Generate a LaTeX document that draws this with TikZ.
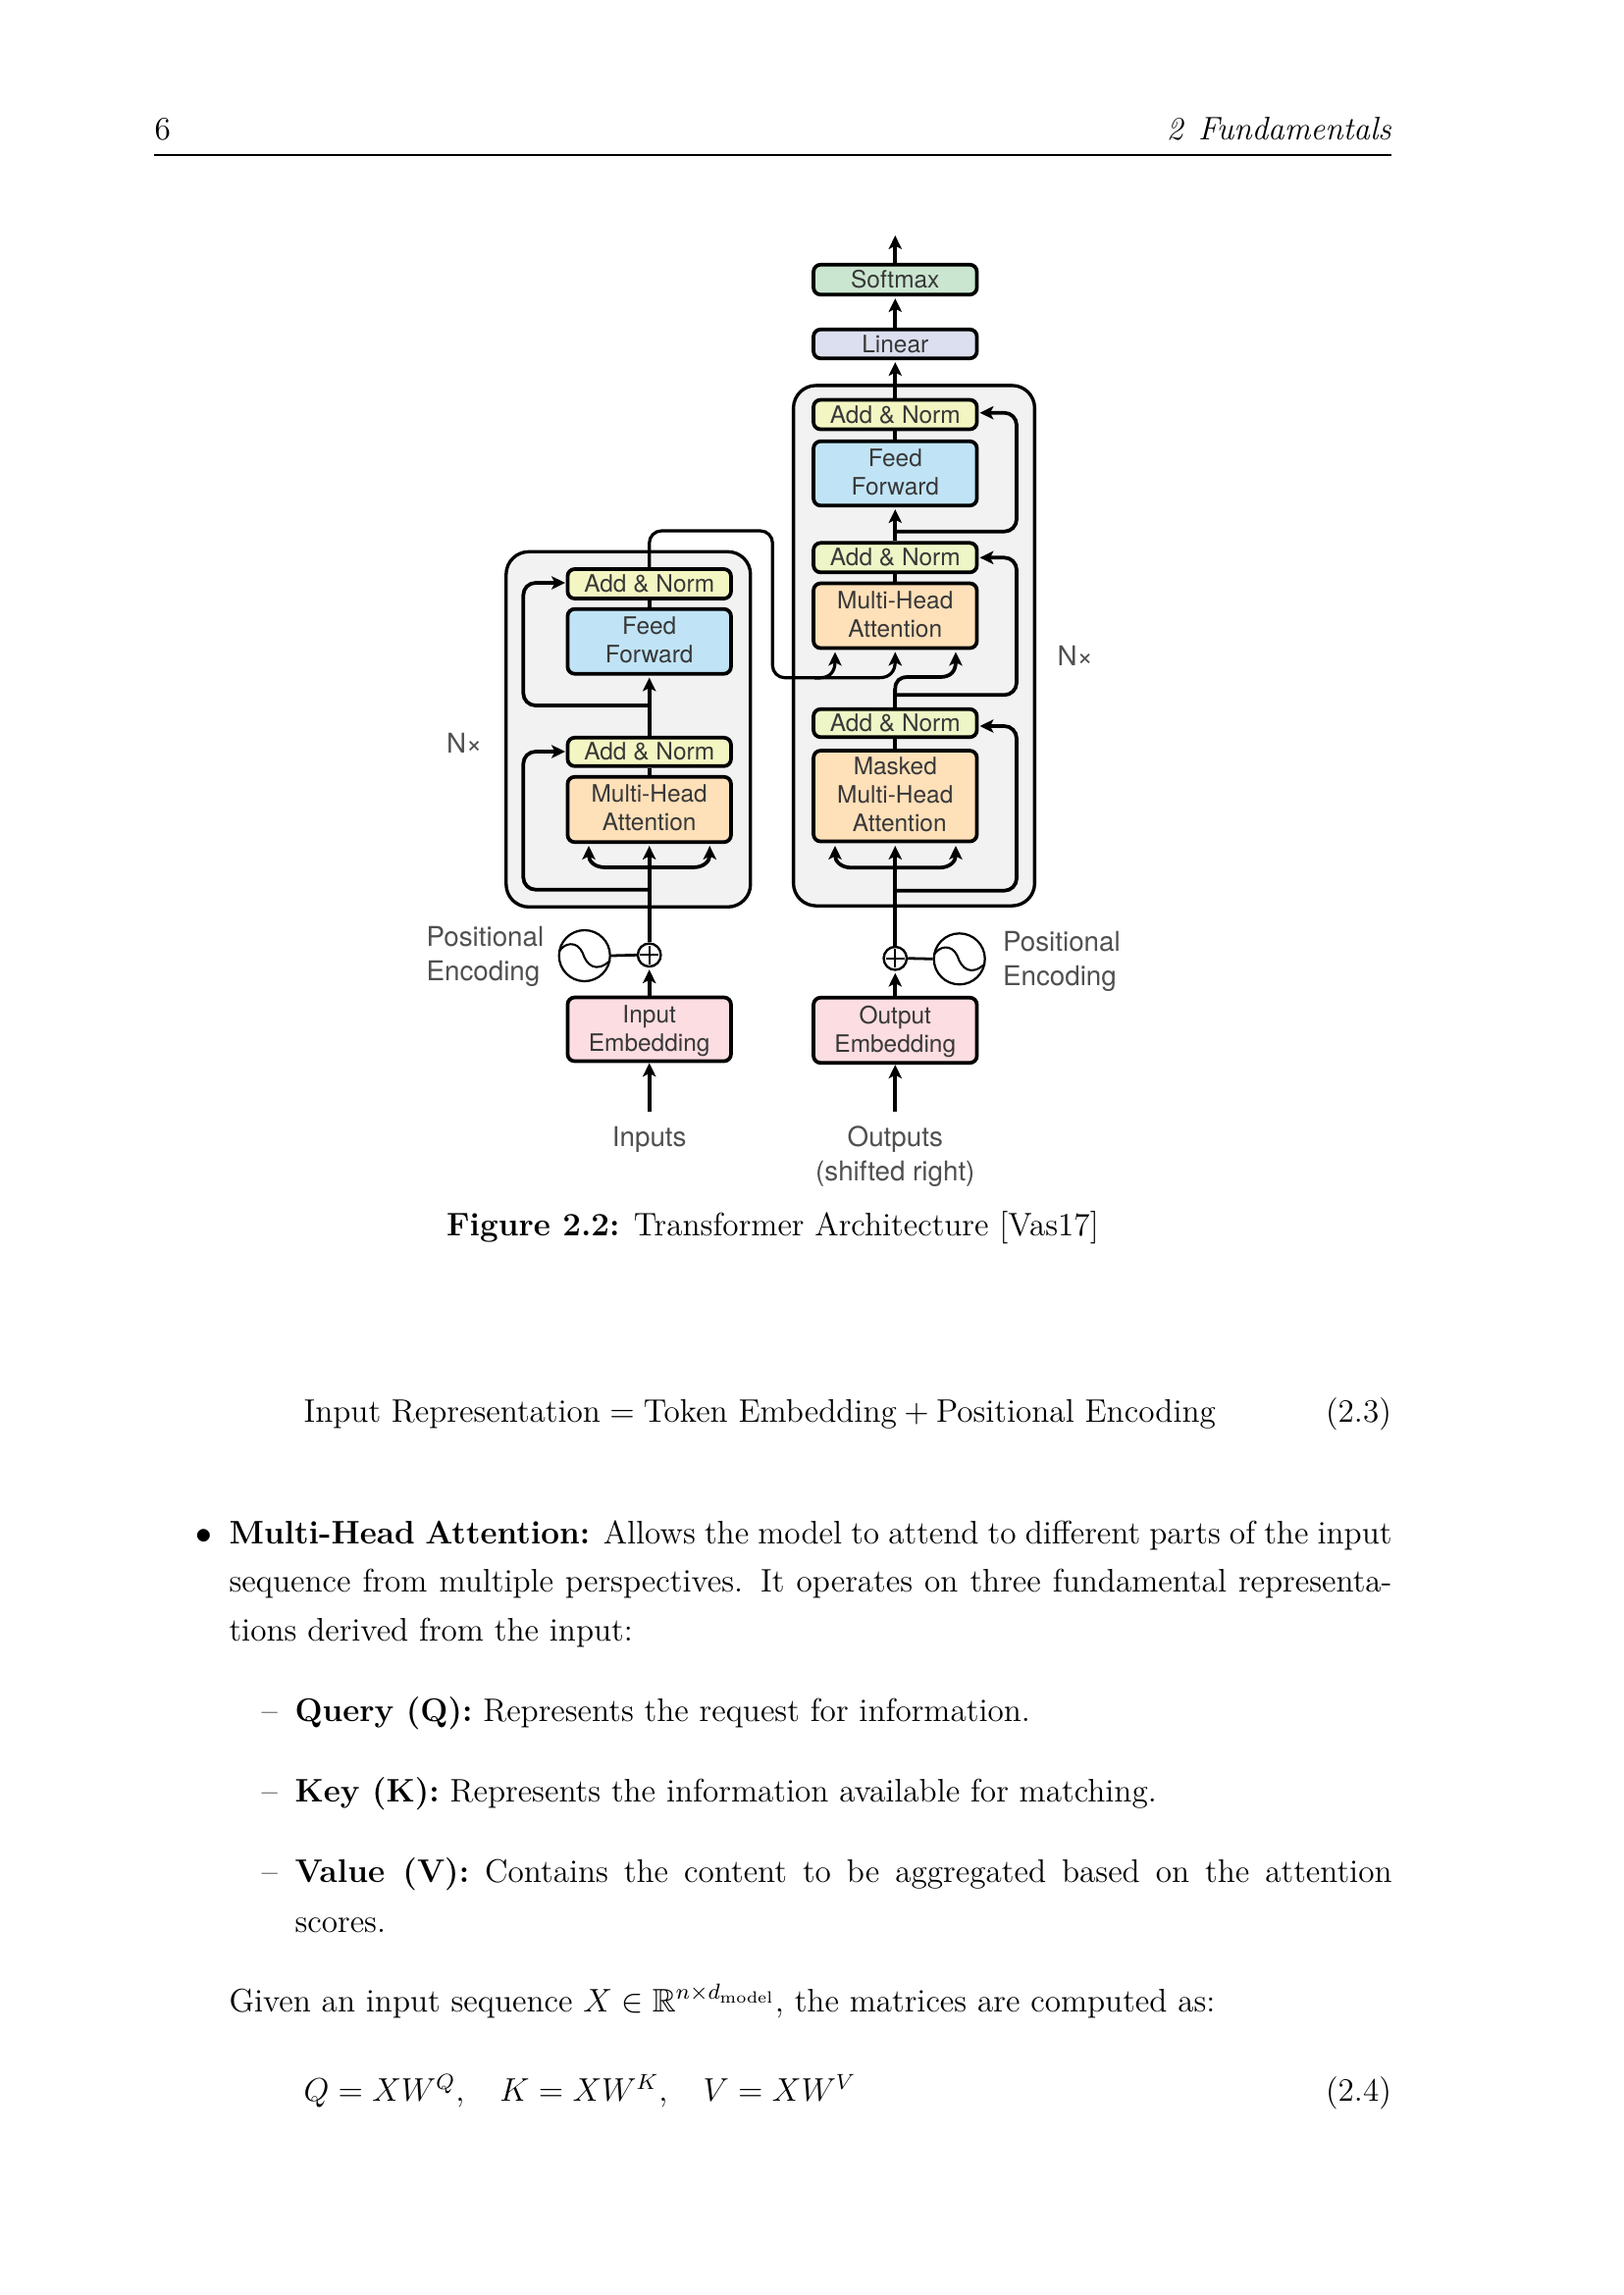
\documentclass[12pt,tikz,border=0pt]{standalone}
\usepackage{amsmath,amssymb}
\usepackage{fontspec}
\usetikzlibrary{arrows.meta,calc}
\newfontfamily\hvfont{TeX Gyre Heros}
\newcommand\dnrule{\rule[-1.1pt]{0pt}{0pt}}
\newcommand\uprule{\rule{0pt}{7.4pt}}
\definecolor{cSoft}{HTML}{CBE6D0}
\definecolor{cLin}{HTML}{DCDFEF}
\definecolor{cAdd}{HTML}{F3F6C2}
\definecolor{cAddB}{HTML}{EEF5C6}
\definecolor{cFF}{HTML}{C0E4F6}
\definecolor{cMHA}{HTML}{FEE0B9}
\definecolor{cEmb}{HTML}{FCDDE1}
\definecolor{cBlock}{HTML}{F2F2F2}
\definecolor{cTxt}{HTML}{383838}
\definecolor{cLab}{HTML}{505050}
\tikzset{
  x=0.36pt,y=-0.36pt,
  >={Stealth[length=5pt,width=4.8pt,inset=1.2pt]},
  stackbox/.style={draw=black,line width=1.35pt,rounded corners=2.6pt,inner sep=0pt,align=center,
    minimum width=166.5*0.36pt,text=cTxt,font=\hvfont\fontsize{8.8}{10.5}\selectfont},
  block/.style={draw=black,line width=1.2pt,rounded corners=8.3pt,fill=cBlock,inner sep=0pt},
  conn/.style={draw=black,line width=1.35pt,rounded corners=4.5pt},
  connA/.style={conn,->,shorten >=0.7pt},
  xconn/.style={draw=black,line width=1.15pt,rounded corners=4.5pt},
  lab/.style={inner sep=0pt,text=cLab,align=left,font=\hvfont\fontsize{10}{12.6}\selectfont},
  sumnode/.style={circle,draw=black,line width=0.85pt,fill=white,inner sep=0pt,minimum size=23.5*0.36pt},
  wavenode/.style={circle,draw=black,line width=0.8pt,fill=white,inner sep=0pt,minimum size=52*0.36pt},
  ptxt/.style={inner sep=0pt,anchor=base west,font=\fontsize{11.96}{14.5}\selectfont},
  ptxtr/.style={inner sep=0pt,anchor=base east,font=\fontsize{11.96}{14.5}\selectfont}
}
\begin{document}
\begin{tikzpicture}
\useasboundingbox (0,0) rectangle (1654,2339);
\fill[white] (0,0) rectangle (1654,2339);

% header
\node[ptxt] (pnum) at (157,142.7) {6};
\node[ptxtr] (phead) at (1418.5,142.7) {\textit{2\hspace{5.6pt}Fundamentals}};
\coordinate (ruleL) at (157,157.7);
\coordinate (ruleR) at (1418,157.7);
\draw[line width=0.72pt] (ruleL) -- (ruleR);

% blocks
\node[block,minimum width=245.8*0.36pt,minimum height=530.3*0.36pt] (decblock) at (931.5,658) {};
\node[block,minimum width=249*0.36pt,minimum height=362*0.36pt] (encblock) at (640.3,743.3) {};

% decoder stack
\node[stackbox,fill=cSoft,minimum height=30.5*0.36pt] (softmax) at (912.3,285) {Softmax};
\node[stackbox,fill=cLin,minimum height=29.5*0.36pt] (linear) at (912.3,350.5) {Linear};
\node[stackbox,fill=cAdd,minimum height=30*0.36pt] (anD) at (912.3,422.5) {Add \& Norm};
\node[stackbox,fill=cFF,minimum height=65.5*0.36pt] (ffD) at (912.3,482.5) {Feed\\Forward\dnrule};
\node[stackbox,fill=cAddB,minimum height=30*0.36pt] (anC) at (912.3,568.3) {Add \& Norm};
\node[stackbox,fill=cMHA,minimum height=66*0.36pt] (mhaD) at (912.3,627.5) {Multi-Head\\Attention\dnrule};
\node[stackbox,fill=cAddB,minimum height=28.5*0.36pt] (anB) at (912.3,737) {Add \& Norm};
\node[stackbox,fill=cMHA,minimum height=92.5*0.36pt] (mask) at (912.3,811.3) {Masked\\Multi-Head\\\hspace*{3.2pt}Attention\dnrule};
\node[stackbox,fill=cEmb,minimum height=66.5*0.36pt] (outemb) at (912.3,1050) {\uprule Output\\Embedding};

% encoder stack
\node[stackbox,fill=cAdd,minimum height=30*0.36pt] (anF) at (661.7,595) {Add \& Norm};
\node[stackbox,fill=cFF,minimum height=66*0.36pt] (ffE) at (661.7,653.7) {Feed\\Forward\dnrule};
\node[stackbox,fill=cAdd,minimum height=29*0.36pt] (anE) at (661.7,766.3) {Add \& Norm};
\node[stackbox,fill=cMHA,minimum height=66.5*0.36pt] (mhaE) at (661.7,825) {Multi-Head\\Attention\dnrule};
\node[stackbox,fill=cEmb,minimum height=65*0.36pt] (inemb) at (661.7,1049) {\uprule Input\\Embedding};

% sums and waves
\node[sumnode] (sumL) at (661.7,973.3) {};
\node[sumnode] (sumR) at (912.3,976.7) {};
\node[wavenode] (waveL) at (595.7,974) {};
\node[wavenode] (waveR) at (977.7,977.3) {};
\foreach \n in {sumL,sumR}{
  \draw[line width=0.65pt] ($(\n.center)+(-9.5,0)$) -- ($(\n.center)+(9.5,0)$);
  \draw[line width=0.65pt] ($(\n.center)+(0,-9.5)$) -- ($(\n.center)+(0,9.5)$);
}
\foreach \n in {waveL,waveR}{
  \draw[line width=0.75pt,shift={(\n.center)}] (-26,-4) .. controls (-21,-13) and (-8,-16) .. (-2,-3)
     .. controls (2,10) and (12,18) .. (26,5);
}
\draw[line width=1pt] (waveL.east) -- (sumL.west);
\draw[line width=1pt] (sumR.east) -- (waveR.west);

% free ends
\coordinate (outTop) at (912.3,238);
\coordinate (inTail) at (661.7,1133.3);
\coordinate (outTail) at (912.3,1133.3);
\coordinate (anDin) at (998.5,420.7);
\coordinate (anCin) at (998.5,568.3);
\coordinate (anBin) at (998.5,740);
\coordinate (anFin) at (576,594);
\coordinate (anEin) at (576,766);
\coordinate (tipA) at (851,664.5);
\coordinate (tipB) at (912.3,664.5);
\coordinate (tipC) at (974,664.5);
\coordinate (tipD) at (851,862);
\coordinate (tipE) at (912.3,862);
\coordinate (tipF) at (974,862);
\coordinate (tipG) at (600,862);
\coordinate (tipH) at (661.7,862);
\coordinate (tipI) at (723.3,862);

% decoder connectors
\draw[connA] (softmax.north) -- (outTop);
\draw[connA] (linear.north) -- (softmax.south);
\draw[connA] (anD.north) -- (linear.south);
\draw[conn] (ffD.north) -- (anD.south);
\draw[connA] (anC.north) -- (ffD.south);
\draw[conn] (mhaD.north) -- (anC.south);
\draw[conn] (mask.north) -- (anB.south);
\draw[connA,shorten >=0pt] (912.3,541.7) -- (1036,541.7) -- (1036,420.7) -- (anDin);
\draw[connA,shorten >=0pt] (912.3,708.3) -- (1036,708.3) -- (1036,568.3) -- (anCin);
\draw[connA,shorten >=0pt] (912.3,907.7) -- (1036,907.7) -- (1036,740) -- (anBin);
\draw[conn,rounded corners=0pt] (anB.north) -- (912.3,702);
\draw[conn,rounded corners=0pt,->] (912.3,708) -- (912.3,702) .. controls (912.3,694) and (917,690) .. (925,690) -- (958,690) .. controls (969,690) and (974,684) .. (tipC);
\draw[connA,shorten >=0pt,rounded corners=0pt] (sumR.north) -- (tipE);
\draw[connA,shorten >=0pt,rounded corners=0pt] (912.3,884.3) -- (868,884.3) .. controls (857,884.3) and (851,878) .. (tipD);
\draw[connA,shorten >=0pt,rounded corners=0pt] (912.3,884.3) -- (957,884.3) .. controls (968,884.3) and (974,878) .. (tipF);
\draw[connA] (outemb.north) -- (sumR.south);
\draw[connA,shorten >=0pt] (outTail) -- (outemb.south);

% encoder connectors
\draw[conn] (ffE.north) -- (anF.south);
\draw[connA] (anE.north) -- (ffE.south);
\draw[conn] (mhaE.north) -- (anE.south);
\draw[connA,shorten >=0pt] (661.7,719) -- (533.3,719) -- (533.3,594) -- (anFin);
\draw[connA,shorten >=0pt] (661.7,906.7) -- (533.3,906.7) -- (533.3,766) -- (anEin);
\draw[connA,shorten >=0pt,rounded corners=0pt] (sumL.north) -- (tipH);
\draw[connA,shorten >=0pt,rounded corners=0pt] (661.7,884) -- (617,884) .. controls (606,884) and (600,878) .. (tipG);
\draw[connA,shorten >=0pt,rounded corners=0pt] (661.7,884) -- (706,884) .. controls (717,884) and (723.3,878) .. (tipI);
\draw[connA] (inemb.north) -- (sumL.south);
\draw[connA,shorten >=0pt] (inTail) -- (inemb.south);

% encoder to decoder
\draw[xconn] (anF.north) -- (661.7,541) -- (787.3,541) -- (787.3,690.7) -- (836,690.7);
\draw[xconn,->,rounded corners=0pt] (830,690.7) -- (836,690.7) .. controls (846,690.7) and (851,684) .. (tipA);
\draw[xconn,->,rounded corners=0pt] (830,690.7) -- (896,690.7) .. controls (907,690.7) and (912.3,684) .. (tipB);

% labels
\node[lab,anchor=west] (nxL) at (454.5,757) {N×};
\node[lab,anchor=west] (nxR) at (1077,668) {N×};
\node[lab,anchor=west] (peL) at (434,975) {Positional\\Encoding};
\node[lab,anchor=west] (peR) at (1021.5,980) {Positional\\Encoding};
\node[lab,align=center] (inlab) at (661.7,1161.5) {Inputs};
\node[lab,align=center] (outlab) at (912.3,1179) {Outputs\\(shifted right)};

% page text
\node[ptxt,anchor=base] (caption) at (787.5,1259.5) {\textbf{Figure 2.2:} Transformer Architecture [Vas17]};
\node[ptxt] (eqa) at (309,1449.5) {$\text{Input Representation}=\text{Token Embedding}+\text{Positional Encoding}$};
\node[ptxtr] (eqan) at (1418.5,1449.5) {(2.3)};
\node[ptxt] (bull) at (199,1573.5) {$\bullet$};
\node[ptxt] (la) at (233,1573.5) {\hbox to 426.6pt{\textbf{Multi-Head Attention:} Allows the model to attend to different parts of the input}};
\node[ptxt] (lb) at (233,1622.8) {\hbox to 426.6pt{sequence from multiple perspectives. It operates on three fundamental representa-}};
\node[ptxt] (lc) at (233,1672) {tions derived from the input:};
\node[ptxt] (da) at (266,1754) {--};
\node[ptxt] (ld) at (300,1754) {\textbf{Query (Q):} Represents the request for information.};
\node[ptxt] (db) at (266,1836) {--};
\node[ptxt] (le) at (300,1836) {\textbf{Key (K):} Represents the information available for matching.};
\node[ptxt] (dc) at (266,1918) {--};
\node[ptxt] (lf) at (300,1918) {\hbox to 402.5pt{\textbf{Value (V):} Contains the content to be aggregated based on the attention}};
\node[ptxt] (lg) at (300,1969) {scores.};
\node[ptxt] (lh) at (233,2050) {Given an input sequence $X\in\mathbb{R}^{n\times d_{\text{model}}}$, the matrices are computed as:};
\node[ptxt] (eqb) at (309,2141.5) {$Q=XW^{Q},\hspace{11pt}K=XW^{K},\hspace{11pt}V=XW^{V}$};
\node[ptxtr] (eqbn) at (1418.5,2141.5) {(2.4)};
\end{tikzpicture}
\end{document}
